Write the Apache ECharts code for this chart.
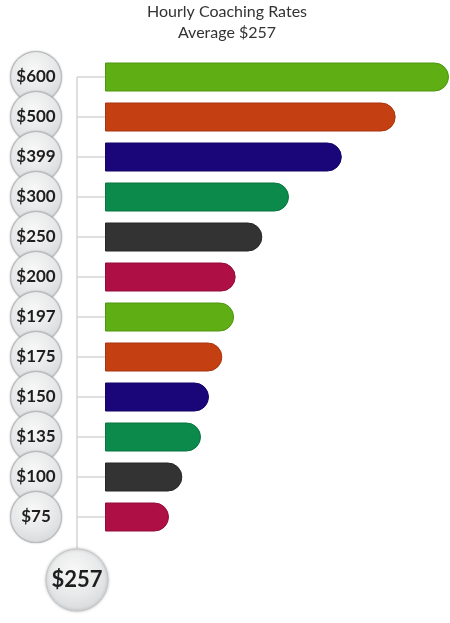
<!DOCTYPE html>
<html>
<head>
<meta charset="utf-8">
<script src="https://cdn.jsdelivr.net/npm/echarts@6/dist/echarts.min.js"></script>
<style>
  html, body { margin: 0; padding: 0; background: #fff; }
  #main { width: 450px; height: 623px; }
</style>
</head>
<body>
<div id="main"></div>
<script>
// rates shown top to bottom
const rateLabels = ['$600', '$500', '$399', '$300', '$250', '$200', '$197', '$175', '$150', '$135', '$100', '$75'];
const rateValues = [600, 500, 399, 300, 250, 200, 197, 175, 150, 135, 100, 75];
const averageRate = 257;
const titleLines = ['Hourly Coaching Rates', 'Average $' + averageRate];

const palette = ['#5eae14', '#c43f11', '#1b0679', '#0b8a4c', '#333333', '#ae0f45'];
const edges = ['#4e960f', '#a8350e', '#150566', '#097540', '#262626', '#940c3a'];

const gridLeft = 105;
const gridTop = 57;
const rowH = 40;
const tickLen = 28;
const xMin = -45;

const bubbleFill = new echarts.graphic.RadialGradient(0.45, 0.35, 0.75, [
  { offset: 0, color: '#f8f8f8' },
  { offset: 0.55, color: '#e7e8e9' },
  { offset: 1, color: '#d2d4d6' }
]);

const chart = echarts.init(document.getElementById('main'));

const lastY = gridTop + rowH * (rateLabels.length - 0.5);
const lineX = gridLeft - tickLen;
const avgY = lastY + 63;

chart.setOption({
  animation: false,
  title: {
    text: titleLines.join('\n'),
    left: 227,
    textAlign: 'center',
    top: 1,
    padding: 0,
    textStyle: {
      fontFamily: 'Lato',
      fontSize: 16,
      fontWeight: 'normal',
      color: '#333',
      lineHeight: 21
    }
  },
  grid: { left: gridLeft, right: 1, top: gridTop, height: rowH * rateLabels.length },
  xAxis: {
    type: 'value',
    min: xMin,
    max: 600,
    startValue: xMin,
    show: false
  },
  yAxis: {
    type: 'category',
    inverse: true,
    data: rateLabels,
    axisLine: { show: false },
    axisTick: { show: false },
    axisLabel: {
      interval: 0,
      showMinLabel: true,
      showMaxLabel: true,
      hideOverlap: false,
      margin: 44,
      formatter: v => '{c|' + v + '}',
      rich: {
        c: {
          width: 50,
          height: 50,
          lineHeight: 50,
          align: 'center',
          borderRadius: 26,
          backgroundColor: bubbleFill,
          borderColor: '#c4c6c8',
          borderWidth: 1,
          shadowBlur: 2,
          shadowColor: 'rgba(0,0,0,0.25)',
          fontFamily: 'Lato',
          fontWeight: 'bold',
          fontSize: 17,
          color: '#1e1e1e'
        }
      }
    }
  },
  series: [{
    type: 'bar',
    barWidth: 29,
    data: rateValues.map((v, i) => ({
      value: v,
      itemStyle: {
        color: palette[i % palette.length],
        borderColor: edges[i % edges.length],
        borderWidth: 1
      }
    })),
    itemStyle: { borderRadius: [0, 14, 14, 0] }
  }]
});

// connector lines: vertical spine plus one stub per category row
const connectors = rateLabels.map(label => {
  const y = chart.convertToPixel({ yAxisIndex: 0 }, label);
  return {
    type: 'line',
    shape: { x1: lineX, y1: y, x2: gridLeft, y2: y },
    style: { stroke: '#d4d4d4', lineWidth: 1.5 }
  };
});
const firstY = chart.convertToPixel({ yAxisIndex: 0 }, rateLabels[0]);

chart.setOption({
  graphic: connectors.concat([
    {
      type: 'line',
      shape: { x1: lineX, y1: firstY, x2: lineX, y2: avgY - 32 },
      style: { stroke: '#d4d4d4', lineWidth: 1.5 }
    },
    {
      type: 'circle',
      shape: { cx: lineX, cy: avgY, r: 31 },
      style: {
        fill: bubbleFill,
        stroke: '#c4c6c8',
        lineWidth: 1,
        shadowBlur: 3,
        shadowColor: 'rgba(0,0,0,0.25)'
      }
    },
    {
      type: 'text',
      x: lineX,
      y: avgY,
      style: {
        text: '$' + averageRate,
        align: 'center',
        verticalAlign: 'middle',
        fontFamily: 'Lato',
        fontWeight: 'bold',
        fontSize: 22,
        fill: '#1e1e1e'
      }
    }
  ])
});
</script>
</body>
</html>
